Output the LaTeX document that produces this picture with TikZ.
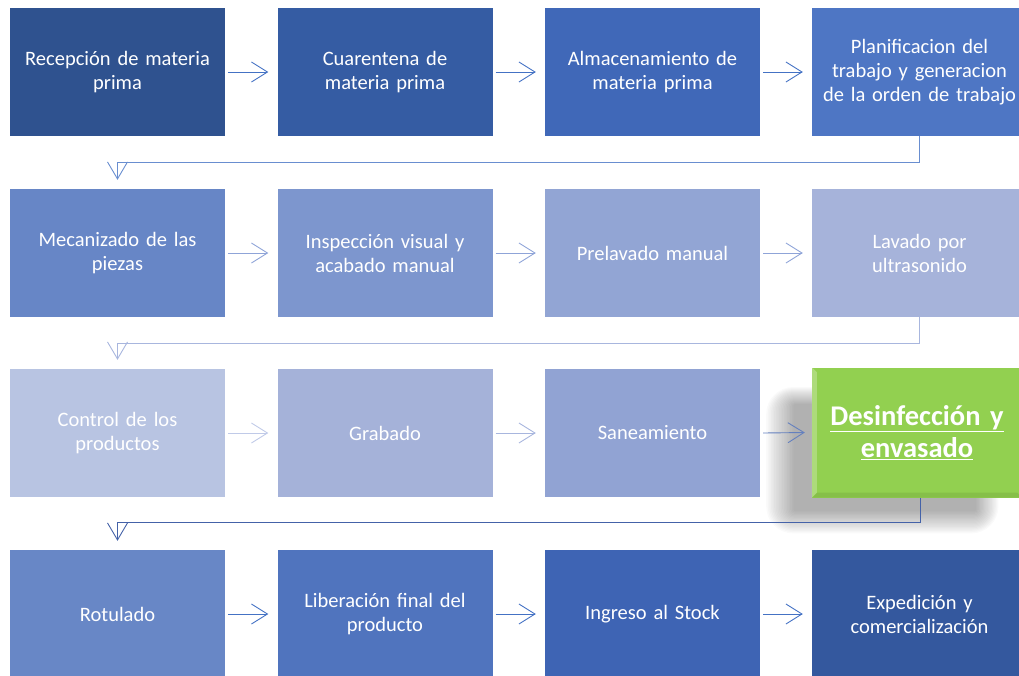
\documentclass[tikz,border=0pt]{standalone}
\usepackage{fontspec}
\setmainfont{Carlito}
\usetikzlibrary{arrows.meta,calc}
\definecolor{cA}{RGB}{47,82,143}
\definecolor{cB}{RGB}{53,92,163}
\definecolor{cC}{RGB}{64,104,184}
\definecolor{cD}{RGB}{78,118,196}
\definecolor{cE}{RGB}{103,134,198}
\definecolor{cF}{RGB}{125,150,206}
\definecolor{cG}{RGB}{146,165,212}
\definecolor{cH}{RGB}{166,179,218}
\definecolor{cI}{RGB}{184,196,226}
\definecolor{cJ}{RGB}{165,178,217}
\definecolor{cK}{RGB}{145,163,211}
\definecolor{cGreen}{RGB}{146,208,80}
\definecolor{cL}{RGB}{104,135,198}
\definecolor{cM}{RGB}{80,116,190}
\definecolor{cN}{RGB}{62,100,180}
\definecolor{cO}{RGB}{52,88,158}
\definecolor{aA}{RGB}{68,114,196}
\definecolor{aB}{RGB}{143,164,216}
\definecolor{aC}{RGB}{192,202,232}
\definecolor{aD}{RGB}{168,182,222}
\definecolor{aE}{RGB}{100,128,190}
\definecolor{aF}{RGB}{68,98,168}
\tikzset{
  box/.style={minimum width=215pt,minimum height=128pt,inner sep=2pt,align=center,
    text=white,font=\fontsize{20.5}{24}\selectfont,text width=211pt},
  harrow/.style={line width=0.9pt,-{Straight Barb[length=16pt,width=20pt,line width=0.9pt]}},
  varrow/.style={line width=0.9pt,-{Straight Barb[length=17pt,width=20pt,line width=0.9pt]}},
}
\begin{document}
\begin{tikzpicture}[x=1pt,y=-1pt]
\useasboundingbox (0,0) rectangle (1019,675);
\clip (0,0) rectangle (1019,675);
% row 1
\node[box,fill=cA] (b1) at (117.5,72) {Recepción de materia\\prima};
\node[box,fill=cB] (b2) at (385,72) {Cuarentena de\\materia prima};
\node[box,fill=cC] (b3) at (652.5,72) {Almacenamiento de\\materia prima};
\node[box,fill=cD] (b4) at (919.5,72) {Planificacion del\\trabajo y generacion\\de la orden de trabajo};
% row 2
\node[box,fill=cE] (b5) at (117.5,253) {Mecanizado de las\\piezas};
\node[box,fill=cF] (b6) at (385,253) {Inspección visual y\\acabado manual};
\node[box,fill=cG] (b7) at (652.5,253) {Prelavado manual};
\node[box,fill=cH] (b8) at (919.5,253) {Lavado por\\ultrasonido};
% row 3
\node[box,fill=cI] (b9) at (117.5,433) {Control de los\\productos};
\node[box,fill=cJ] (b10) at (385,433) {Grabado};
\node[box,fill=cK] (b11) at (652.5,433) {Saneamiento};
% shadow of green box
\foreach \i in {1,...,18}{
  \fill[black,opacity=0.018,rounded corners=\i*1.5pt]
    ($(795-\i*1.6,405-\i*1.0)$) rectangle ($(975+\i*1.3,510+\i*1.3)$);
}
\node[box,fill=cGreen,minimum width=210pt,minimum height=130pt,text width=205pt,
  font=\fontsize{28.5}{32}\selectfont\bfseries] (b12) at (917,432.5)
  {\underline{Desinfección y}\\\underline{envasado}};
\fill[white,opacity=0.25] (b12.north west) -- ++(5,5) -- ([shift={(5,-5)}]b12.south west) -- (b12.south west) -- cycle;
\fill[black,opacity=0.08] (b12.south west) -- ++(5,-5) -- ([shift={(-5,-5)}]b12.south east) -- (b12.south east) -- cycle;
% row 4
\node[box,fill=cL] (b13) at (117.5,614) {Rotulado};
\node[box,fill=cM] (b14) at (385,614) {Liberación final del\\producto};
\node[box,fill=cN] (b15) at (652.5,614) {Ingreso al Stock};
\node[box,fill=cO] (b16) at (919.5,614) {Expedición y\\comercialización};
% horizontal arrows
\draw[harrow,aA] ([xshift=3pt]b1.east) -- ([xshift=-9pt]b2.west);
\draw[harrow,aA] ([xshift=3pt]b2.east) -- ([xshift=-9pt]b3.west);
\draw[harrow,aA] ([xshift=3pt]b3.east) -- ([xshift=-9pt]b4.west);
\draw[harrow,aB] ([xshift=3pt]b5.east) -- ([xshift=-9pt]b6.west);
\draw[harrow,aB] ([xshift=3pt]b6.east) -- ([xshift=-9pt]b7.west);
\draw[harrow,aB] ([xshift=3pt]b7.east) -- ([xshift=-9pt]b8.west);
\draw[harrow,aC] ([xshift=3pt]b9.east) -- ([xshift=-9pt]b10.west);
\draw[harrow,aD] ([xshift=3pt]b10.east) -- ([xshift=-9pt]b11.west);
\draw[harrow,aE] ([xshift=3pt]b11.east) -- ([xshift=-7pt]b12.west);
\draw[harrow,aA] ([xshift=3pt]b13.east) -- ([xshift=-9pt]b14.west);
\draw[harrow,aA] ([xshift=3pt]b14.east) -- ([xshift=-9pt]b15.west);
\draw[harrow,aA] ([xshift=3pt]b15.east) -- ([xshift=-9pt]b16.west);
% row connectors
\draw[varrow,aA!80!white] (b4.south) -- ++(0,26) -| ([yshift=9pt]b5.north);
\draw[varrow,aD] (b8.south) -- ++(0,26) -| ([yshift=9pt]b9.north);
\draw[varrow,aF] ([xshift=3pt]b12.south) -- ++(0,25) -| ([yshift=9pt]b13.north);
\end{tikzpicture}
\end{document}
